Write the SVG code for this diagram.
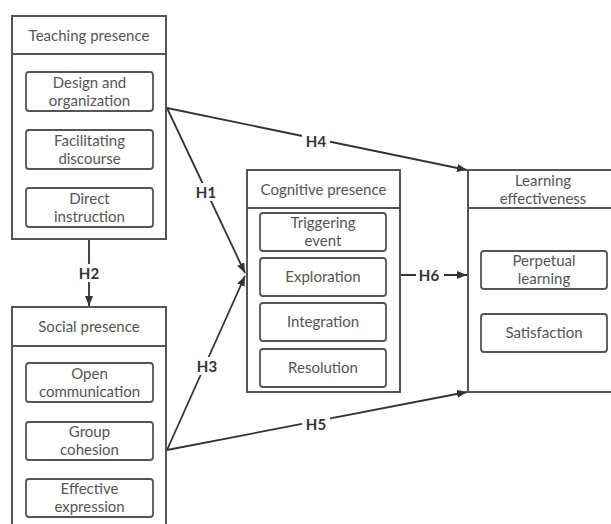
<svg xmlns="http://www.w3.org/2000/svg" width="611" height="524" viewBox="0 0 611 524">
<defs>
<marker id="ah" markerWidth="10" markerHeight="8" refX="10" refY="4" orient="auto" markerUnits="userSpaceOnUse">
<path d="M0,0 L10,4 L0,8 Z" fill="#333"/>
</marker>
<style>
.outer{fill:#fff;stroke:#555;stroke-width:2}
.inner{fill:#fff;stroke:#555;stroke-width:1.8}
.t{font-family:Lato,"Open Sans",sans-serif;font-size:15px;fill:#555;text-anchor:middle}
.h{font-family:Lato,"Open Sans",sans-serif;font-size:15px;font-weight:bold;fill:#333;text-anchor:middle}
.c{stroke:#333;stroke-width:1.8;fill:none}
</style>
</defs>
<rect width="611" height="524" fill="#fff"/>
<g id="connectors">
<line class="c" x1="89" y1="240" x2="89" y2="306" marker-end="url(#ah)"/>
<line class="c" x1="167" y1="108" x2="245" y2="273" marker-end="url(#ah)"/>
<line class="c" x1="167" y1="450" x2="245" y2="276" marker-end="url(#ah)"/>
<line class="c" x1="167" y1="108" x2="467" y2="170" marker-end="url(#ah)"/>
<line class="c" x1="167" y1="450" x2="467" y2="392" marker-end="url(#ah)"/>
<line class="c" x1="401" y1="275" x2="467" y2="275" marker-end="url(#ah)"/>
<rect x="76" y="264" width="26" height="18" fill="#fff"/>
<text class="h" x="89" y="279">H2</text>
<rect x="193" y="183" width="26" height="18" fill="#fff"/>
<text class="h" x="206" y="198">H1</text>
<rect x="194" y="357" width="26" height="18" fill="#fff"/>
<text class="h" x="207" y="372">H3</text>
<rect x="302" y="132" width="28" height="18" fill="#fff"/>
<text class="h" x="316" y="147">H4</text>
<rect x="302" y="415" width="28" height="18" fill="#fff"/>
<text class="h" x="316" y="430">H5</text>
<rect x="416" y="266" width="28" height="18" fill="#fff"/>
<text class="h" x="429" y="281">H6</text>
</g>
<g id="teaching">
<rect class="outer" x="12" y="16" width="154" height="223"/>
<line class="outer" x1="12" y1="54" x2="166" y2="54"/>
<text class="t" x="89" y="41">Teaching presence</text>
<rect class="inner" x="26" y="72" width="127" height="39" rx="3"/>
<text class="t" x="89.5" y="87.5">Design and</text>
<text class="t" x="89.5" y="105.5">organization</text>
<rect class="inner" x="26" y="130" width="127" height="39" rx="3"/>
<text class="t" x="89.5" y="145.5">Facilitating</text>
<text class="t" x="89.5" y="163.5">discourse</text>
<rect class="inner" x="26" y="188" width="127" height="39" rx="3"/>
<text class="t" x="89.5" y="203.5">Direct</text>
<text class="t" x="89.5" y="221.5">instruction</text>
</g>
<g id="social">
<rect class="outer" x="12" y="307" width="154" height="230"/>
<line class="outer" x1="12" y1="346" x2="166" y2="346"/>
<text class="t" x="89" y="332">Social presence</text>
<rect class="inner" x="26" y="363" width="127" height="39" rx="3"/>
<text class="t" x="89.5" y="378.5">Open</text>
<text class="t" x="89.5" y="396.5">communication</text>
<rect class="inner" x="26" y="422" width="127" height="38" rx="3"/>
<text class="t" x="89.5" y="437">Group</text>
<text class="t" x="89.5" y="455">cohesion</text>
<rect class="inner" x="26" y="479" width="127" height="38" rx="3"/>
<text class="t" x="89.5" y="494">Effective</text>
<text class="t" x="89.5" y="512">expression</text>
</g>
<g id="cognitive">
<rect class="outer" x="247" y="170" width="153" height="222"/>
<line class="outer" x1="247" y1="208" x2="400" y2="208"/>
<text class="t" x="323.5" y="195">Cognitive presence</text>
<rect class="inner" x="260" y="213" width="126" height="38" rx="3"/>
<text class="t" x="323" y="228">Triggering</text>
<text class="t" x="323" y="246">event</text>
<rect class="inner" x="260" y="258" width="126" height="38" rx="3"/>
<text class="t" x="323" y="282">Exploration</text>
<rect class="inner" x="260" y="303" width="126" height="38" rx="3"/>
<text class="t" x="323" y="327">Integration</text>
<rect class="inner" x="260" y="349" width="126" height="38" rx="3"/>
<text class="t" x="323" y="373">Resolution</text>
</g>
<g id="learning">
<rect class="outer" x="468" y="170" width="160" height="222"/>
<line class="outer" x1="468" y1="208" x2="628" y2="208"/>
<text class="t" x="543" y="185.5">Learning</text>
<text class="t" x="543" y="203.5">effectiveness</text>
<rect class="inner" x="481" y="251" width="126" height="38" rx="3"/>
<text class="t" x="544" y="266">Perpetual</text>
<text class="t" x="544" y="284">learning</text>
<rect class="inner" x="481" y="314" width="126" height="38" rx="3"/>
<text class="t" x="544" y="338">Satisfaction</text>
</g>
</svg>
